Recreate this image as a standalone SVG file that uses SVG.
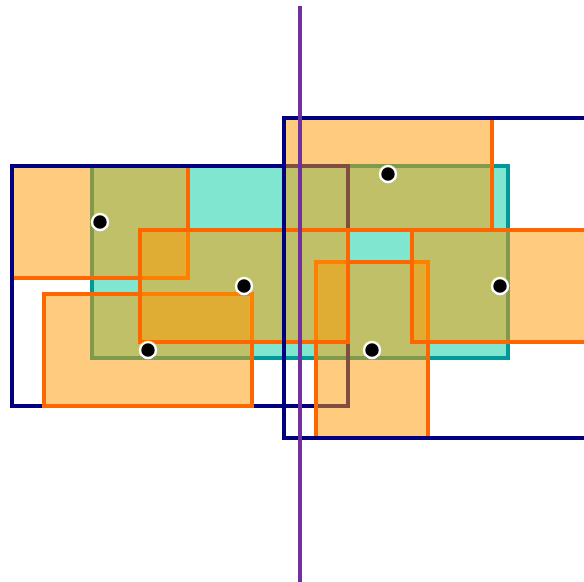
<svg xmlns="http://www.w3.org/2000/svg" width="584" height="582" viewBox="0 0 584 582">
<style>
.teal{fill:#80e6d0;stroke:#009999;stroke-width:4}
.box{fill:#ff9900;fill-opacity:0.5;stroke:#ff6600;stroke-width:4}
.navy{fill:none;stroke:#000080;stroke-width:4}
.pt{fill:#000;stroke:#fff;stroke-width:2.5}
.split{stroke:#7030a0;stroke-width:4}
</style>
<rect width="584" height="582" fill="#fff"/>
<g id="mbr-teal"><rect class="teal" x="92" y="166" width="416" height="192"/></g>
<g id="box-tl"><rect class="box" x="12" y="166" width="176" height="112"/></g>
<g id="node-left"><rect class="navy" x="12" y="166" width="336" height="240"/></g>
<g id="box-bl"><rect class="box" x="44" y="294" width="208" height="112"/></g>
<g id="box-bm"><rect class="box" x="316" y="262" width="112" height="176"/></g>
<g id="box-mid"><rect class="box" x="140" y="230" width="208" height="112"/></g>
<g id="box-tr"><rect class="box" x="284" y="118" width="208" height="112"/></g>
<g id="box-r"><rect class="box" x="412" y="230" width="200" height="112"/></g>
<g id="node-right"><rect class="navy" x="284" y="118" width="330" height="320"/></g>
<g id="points">
<circle class="pt" cx="100" cy="222" r="8"/>
<circle class="pt" cx="244" cy="286" r="8"/>
<circle class="pt" cx="148" cy="350" r="8"/>
<circle class="pt" cx="388" cy="174" r="8"/>
<circle class="pt" cx="500" cy="286" r="8"/>
<circle class="pt" cx="372" cy="350" r="8"/>
</g>
<g id="connectors"><line class="split" x1="300" y1="6" x2="300" y2="582"/></g>
</svg>
